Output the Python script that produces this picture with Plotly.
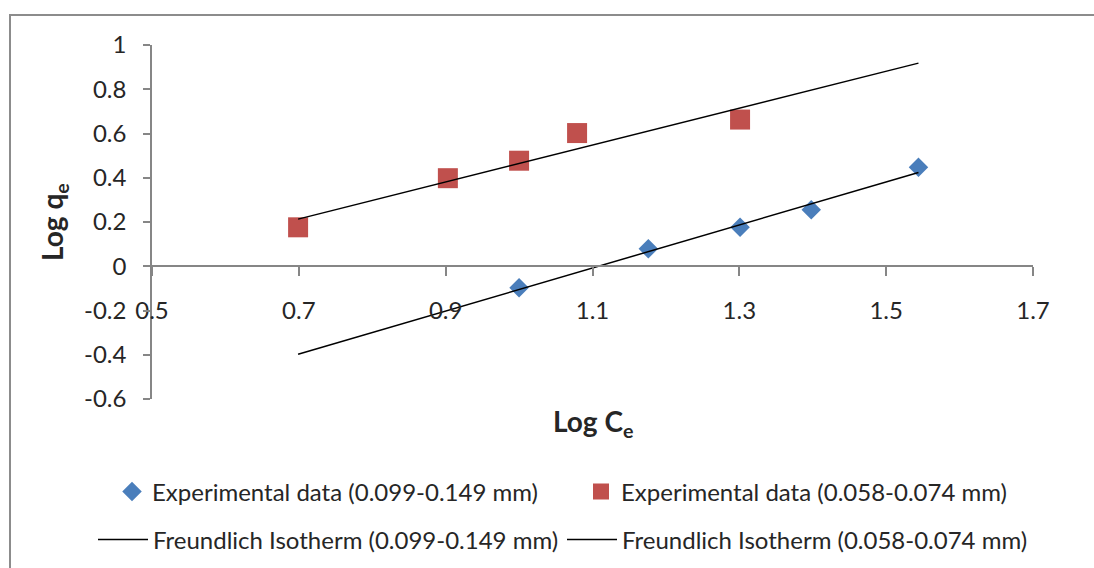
import plotly.graph_objects as go

# Experimental data
blue_x = [1.000, 1.176, 1.301, 1.398, 1.544]
blue_y = [-0.097, 0.079, 0.176, 0.255, 0.447]
red_x = [0.699, 0.903, 1.000, 1.079, 1.301]
red_y = [0.176, 0.398, 0.477, 0.602, 0.663]

# Freundlich fitted lines (end points)
fit_blue_x = [0.699, 1.544]
fit_blue_y = [-0.398, 0.424]
fit_red_x = [0.699, 1.544]
fit_red_y = [0.213, 0.918]

x_ticks = [0.5, 0.7, 0.9, 1.1, 1.3, 1.5, 1.7]
y_ticks = [-0.6, -0.4, -0.2, 0, 0.2, 0.4, 0.6, 0.8, 1]

FONT = "Lato"
TXT = "#262626"
AX = "#868686"
FS = 24

fig = go.Figure()
fig.add_trace(go.Scatter(x=blue_x, y=blue_y, mode="markers",
                         name="Experimental data (0.099-0.149 mm)",
                         marker=dict(symbol="diamond", size=15, color="#4A7EBB"),
                         legend="legend"))
fig.add_trace(go.Scatter(x=red_x, y=red_y, mode="markers",
                         name="Experimental data (0.058-0.074 mm)",
                         marker=dict(symbol="square", size=20, color="#C0504D"),
                         legend="legend"))
fig.add_trace(go.Scatter(x=fit_blue_x, y=fit_blue_y, mode="lines",
                         name="Freundlich Isotherm (0.099-0.149 mm)",
                         line=dict(color="black", width=1.5),
                         legend="legend2"))
fig.add_trace(go.Scatter(x=fit_red_x, y=fit_red_y, mode="lines",
                         name="Freundlich Isotherm (0.058-0.074 mm)",
                         line=dict(color="black", width=1.5),
                         legend="legend2"))

L, R, T, B = 152, 61, 45, 169
W, H = 1094, 568
pw, ph = W - L - R, H - T - B


def px(X):
    return (X - L) / pw


def py(Y):
    return (H - B - Y) / ph


fig.update_layout(
    width=W, height=H,
    margin=dict(l=L, r=R, t=T, b=B, autoexpand=False),
    paper_bgcolor="white", plot_bgcolor="white",
    font=dict(family=FONT, size=FS, color=TXT),
    xaxis=dict(range=[0.5, 1.7], tickvals=x_ticks, ticktext=[f"{v:g}" for v in x_ticks],
               showgrid=False, zeroline=False, showline=True, linecolor=AX, linewidth=1.5,
               ticks="outside", ticklen=9, tickcolor=AX, tickwidth=1.5,
               anchor="free", position=py(266), ticklabelstandoff=14,
               tickfont=dict(size=FS, color=TXT)),
    yaxis=dict(range=[-0.6, 1.0], tickvals=y_ticks, ticktext=[f"{v:g}" for v in y_ticks],
               showgrid=False, zeroline=False, showline=True, linecolor=AX, linewidth=1.5,
               ticks="outside", ticklen=7, tickcolor=AX, tickwidth=1.5,
               ticklabelstandoff=12,
               tickfont=dict(size=FS, color=TXT)),
    legend=dict(orientation="h", x=px(112), y=py(492), xanchor="left", yanchor="middle",
                entrywidth=424, font=dict(size=FS, color=TXT), bgcolor="rgba(0,0,0,0)"),
    legend2=dict(orientation="h", x=px(93), y=py(540), xanchor="left", yanchor="middle",
                 entrywidth=404, itemwidth=50,
                 font=dict(size=FS, color=TXT), bgcolor="rgba(0,0,0,0)"),
    showlegend=True,
)

fig.add_annotation(text="<b>Log C<sub>e</sub></b>", x=px(593), y=py(423), xref="paper", yref="paper",
                   xanchor="center", yanchor="middle",
                   showarrow=False, font=dict(size=28, color=TXT, family=FONT))
fig.add_annotation(text="<b>Log q<sub>e</sub></b>", x=px(54), y=py(222), xref="paper", yref="paper",
                   xanchor="center", yanchor="middle",
                   showarrow=False, textangle=-90, font=dict(size=28, color=TXT, family=FONT))

# outer chart border (top and left edges visible)
fig.add_shape(type="path", xref="paper", yref="paper",
              path=f"M {px(10)} {py(600)} L {px(10)} {py(15)} L {px(1120)} {py(15)}",
              line=dict(color="#8c8c8c", width=2))

fig.write_html("out.html", config={"displayModeBar": False},
               post_script="document.body.style.margin='0px';")
